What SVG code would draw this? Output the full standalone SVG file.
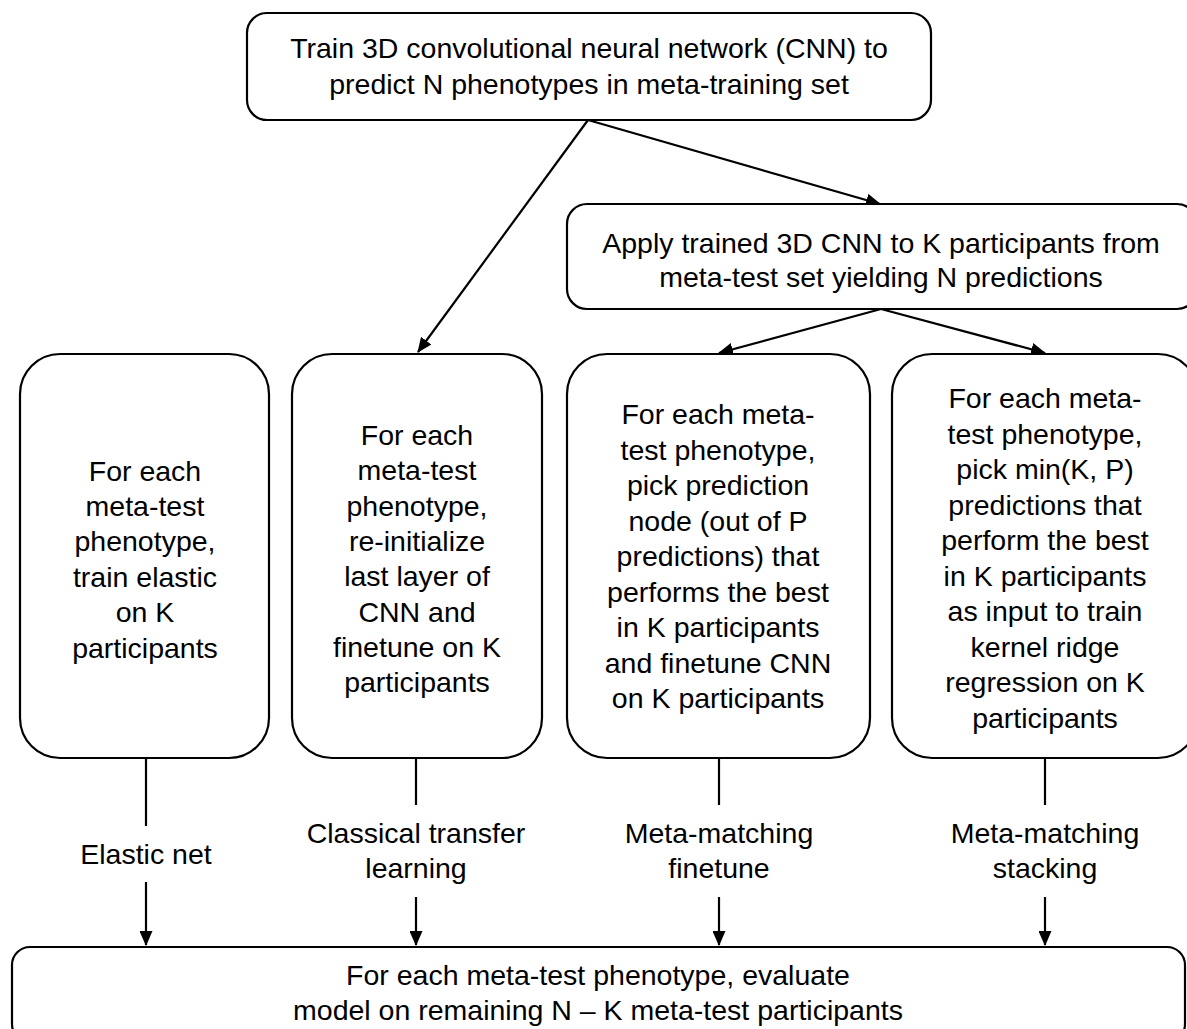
<svg xmlns="http://www.w3.org/2000/svg" width="1187" height="1029" viewBox="0 0 1187 1029">
<defs>
<marker id="ah" markerUnits="userSpaceOnUse" markerWidth="15" markerHeight="13" refX="14" refY="6.5" orient="auto">
<path d="M0,0 L15,6.5 L0,13 z" fill="#000"/>
</marker>
<style>
.box{fill:#fff;stroke:#000;stroke-width:2.2}
.t{font-family:"Liberation Sans",Arial,sans-serif;font-size:28.5px;fill:#000;text-anchor:middle}
.c{stroke:#000;stroke-width:2.2;fill:none}
</style>
</defs>
<rect width="1187" height="1029" fill="#fff"/>

<g id="connectors">
<line class="c" x1="588" y1="120" x2="418" y2="352" marker-end="url(#ah)"/>
<line class="c" x1="588" y1="120" x2="880" y2="204" marker-end="url(#ah)"/>
<line class="c" x1="881" y1="309" x2="719" y2="353" marker-end="url(#ah)"/>
<line class="c" x1="881" y1="309" x2="1045" y2="353" marker-end="url(#ah)"/>
<line class="c" x1="146" y1="758" x2="146" y2="826"/>
<line class="c" x1="146" y1="882" x2="146" y2="945" marker-end="url(#ah)"/>
<line class="c" x1="416" y1="758" x2="416" y2="805"/>
<line class="c" x1="416" y1="897" x2="416" y2="945" marker-end="url(#ah)"/>
<line class="c" x1="719" y1="758" x2="719" y2="805"/>
<line class="c" x1="719" y1="897" x2="719" y2="945" marker-end="url(#ah)"/>
<line class="c" x1="1045" y1="758" x2="1045" y2="805"/>
<line class="c" x1="1045" y1="897" x2="1045" y2="945" marker-end="url(#ah)"/>
<text class="t" x="146" y="864">Elastic net</text>
<text class="t" x="416" y="843">Classical transfer</text>
<text class="t" x="416" y="878">learning</text>
<text class="t" x="719" y="843">Meta-matching</text>
<text class="t" x="719" y="878">finetune</text>
<text class="t" x="1045" y="843">Meta-matching</text>
<text class="t" x="1045" y="878">stacking</text>
</g>

<g id="train">
<rect class="box" x="247" y="13" width="684" height="107" rx="20"/>
<text class="t" x="589" y="58">Train 3D convolutional neural network (CNN) to</text>
<text class="t" x="589" y="94">predict N phenotypes in meta-training set</text>
</g>

<g id="apply">
<rect class="box" x="567" y="204" width="630" height="105" rx="20"/>
<text class="t" x="881" y="252.5">Apply trained 3D CNN to K participants from</text>
<text class="t" x="881" y="286.5">meta-test set yielding N predictions</text>
</g>

<g id="elastic">
<rect class="box" x="20" y="354" width="249" height="404" rx="40"/>
<text class="t" x="145" y="480.5">For each</text>
<text class="t" x="145" y="515.9">meta-test</text>
<text class="t" x="145" y="551.3">phenotype,</text>
<text class="t" x="145" y="586.7">train elastic</text>
<text class="t" x="145" y="622.1">on K</text>
<text class="t" x="145" y="657.5">participants</text>
</g>

<g id="classical">
<rect class="box" x="292" y="354" width="250" height="404" rx="40"/>
<text class="t" x="417" y="445">For each</text>
<text class="t" x="417" y="480.3">meta-test</text>
<text class="t" x="417" y="515.6">phenotype,</text>
<text class="t" x="417" y="550.9">re-initialize</text>
<text class="t" x="417" y="586.2">last layer of</text>
<text class="t" x="417" y="621.5">CNN and</text>
<text class="t" x="417" y="656.8">finetune on K</text>
<text class="t" x="417" y="692.1">participants</text>
</g>

<g id="finetune">
<rect class="box" x="567" y="354" width="303" height="404" rx="40"/>
<text class="t" x="718" y="424">For each meta-</text>
<text class="t" x="718" y="459.5">test phenotype,</text>
<text class="t" x="718" y="495">pick prediction</text>
<text class="t" x="718" y="530.5">node (out of P</text>
<text class="t" x="718" y="566">predictions) that</text>
<text class="t" x="718" y="601.5">performs the best</text>
<text class="t" x="718" y="637">in K participants</text>
<text class="t" x="718" y="672.5">and finetune CNN</text>
<text class="t" x="718" y="708">on K participants</text>
</g>

<g id="stacking">
<rect class="box" x="892" y="354" width="306" height="404" rx="40"/>
<text class="t" x="1045" y="408">For each meta-</text>
<text class="t" x="1045" y="443.5">test phenotype,</text>
<text class="t" x="1045" y="479">pick min(K, P)</text>
<text class="t" x="1045" y="514.5">predictions that</text>
<text class="t" x="1045" y="550">perform the best</text>
<text class="t" x="1045" y="585.5">in K participants</text>
<text class="t" x="1045" y="621">as input to train</text>
<text class="t" x="1045" y="656.5">kernel ridge</text>
<text class="t" x="1045" y="692">regression on K</text>
<text class="t" x="1045" y="727.5">participants</text>
</g>

<g id="evaluate">
<rect class="box" x="12" y="947" width="1173" height="95" rx="18"/>
<text class="t" x="598" y="985">For each meta-test phenotype, evaluate</text>
<text class="t" x="598" y="1020">model on remaining N – K meta-test participants</text>
</g>
</svg>
